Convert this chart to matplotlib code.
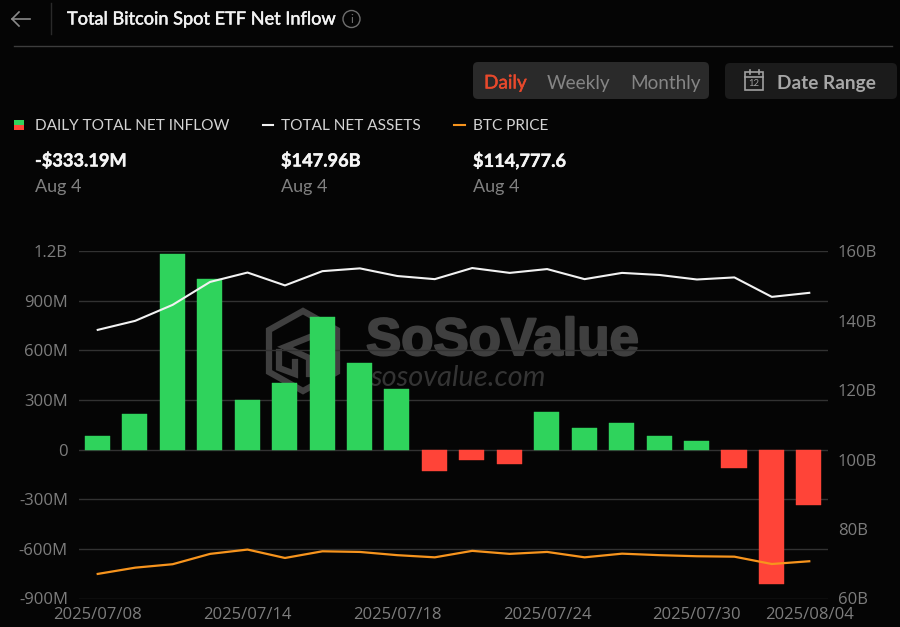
import matplotlib
matplotlib.use("Agg")
import matplotlib.pyplot as plt
import matplotlib.patheffects as pe
from matplotlib.patches import FancyBboxPatch, Polygon, Rectangle, Circle
import numpy as np

W, H = 900, 627
PX = 72 / 100  # px -> pt at dpi 100

BG = "#050505"
GREEN = "#2fd35c"
RED = "#ff4438"
ORANGE = "#f7941d"
GRID = "#323232"
TICK = "#7d7d7d"

dates = ["2025/07/08", "2025/07/09", "2025/07/10", "2025/07/11", "2025/07/14",
         "2025/07/15", "2025/07/16", "2025/07/17", "2025/07/18", "2025/07/21",
         "2025/07/22", "2025/07/23", "2025/07/24", "2025/07/25", "2025/07/28",
         "2025/07/29", "2025/07/30", "2025/07/31", "2025/08/01", "2025/08/04"]
net_inflow_m = [80, 216, 1180, 1030, 300, 405, 800, 525, 365, -130,
                -65, -85, 225, 130, 160, 80, 50, -110, -810, -333.19]
net_assets_b = [137.3, 139.9, 144.5, 151.1, 153.8, 150.1, 154.2, 155.0, 152.8, 151.9,
                155.1, 153.7, 154.8, 151.9, 153.7, 153.1, 151.8, 152.4, 146.8, 147.96]
btc_price = [108900, 111800, 113400, 118200, 120200, 116300, 119400, 119100, 117600, 116600,
             119600, 118200, 119100, 116600, 118300, 117600, 117100, 116900, 113500, 114777.6]

left_ticks = [-900, -600, -300, 0, 300, 600, 900, 1200]
left_labels = ["-900M", "-600M", "-300M", "0", "300M", "600M", "900M", "1.2B"]
right_ticks = [60, 80, 100, 120, 140, 160]
right_labels = ["60B", "80B", "100B", "120B", "140B", "160B"]
shown_dates = [0, 4, 8, 12, 16, 19]

plt.rcParams["font.family"] = ["Lato", "DejaVu Sans"]

fig = plt.figure(figsize=(W / 100, H / 100), dpi=100, facecolor=BG)

# ── Pixel-space layer for the page furniture and the watermark ───────────────
ui = fig.add_axes([0, 0, 1, 1], zorder=0)
ui.set_xlim(0, W)
ui.set_ylim(H, 0)
ui.axis("off")


def label(x, y, s, size, color, weight="normal", ha="left", stroke=0, **kw):
    t = ui.text(x, y, s, fontsize=size * PX, color=color, fontweight=weight,
                ha=ha, va="center", **kw)
    if stroke:
        t.set_path_effects([pe.withStroke(linewidth=stroke, foreground=color)])
    return t


def button(x0, y0, x1, y1, color):
    ui.add_patch(FancyBboxPatch((x0 + 5, y0 + 5), x1 - x0 - 10, y1 - y0 - 10,
                                boxstyle="round,pad=5,rounding_size=5", fc=color, ec="none"))


# header
ui.plot([12, 30], [19, 19], color="#8a8a8a", lw=1.2)
ui.plot([19, 12, 19], [12, 19, 26], color="#8a8a8a", lw=1.2)
ui.plot([50.5, 50.5], [3, 34], color="#2a2a2a", lw=1)
label(67, 19.5, "Total Bitcoin Spot ETF Net Inflow", 18.15, "#f2f2f2", stroke=0.35)
ui.add_patch(Circle((351.5, 19), 8.5, fc="none", ec="#6e6e6e", lw=1))
label(351.5, 19.5, "i", 12, "#6e6e6e", ha="center")
ui.plot([14, 892], [45.5, 45.5], color="#3d3d3d", lw=1)

# period switch + date range
button(473, 62, 709, 99, "#2a2a2a")
button(725, 63, 897, 99, "#1b1b1b")
label(484, 83, "Daily", 19, "#e8492c", stroke=0.3)
label(547, 83, "Weekly", 19, "#858585")
label(630, 83, "Monthly", 19, "#858585")
label(777, 83, "Date Range", 19, "#a6a6a6", weight="bold")
ui.add_patch(Rectangle((745, 72), 18, 18, fc="none", ec="#a0a0a0", lw=1.2))
ui.plot([745, 763], [76.5, 76.5], color="#a0a0a0", lw=1.2)
ui.plot([749.5, 749.5], [70, 74], color="#a0a0a0", lw=1.2)
ui.plot([758.5, 758.5], [70, 74], color="#a0a0a0", lw=1.2)
label(754, 83.5, "12", 9.5, "#a0a0a0", ha="center")

# legend block
ui.add_patch(Rectangle((14, 120), 10, 5, fc=GREEN, ec="none"))
ui.add_patch(Rectangle((14, 125), 10, 5, fc=RED, ec="none"))
ui.plot([263, 273], [125, 125], color="#f0f0f0", lw=1.5)
ui.plot([454, 465], [125, 125], color=ORANGE, lw=1.5)
for x, name, val in [(35, "DAILY TOTAL NET INFLOW", "-$333.19M"),
                     (281, "TOTAL NET ASSETS", "$147.96B"),
                     (473, "BTC PRICE", "$114,777.6")]:
    label(x, 126.5, name, 15.4, "#d4d4d4")
    label(x, 160.5, val, 18.2, "#f5f5f5", weight="bold", stroke=0.3)
    label(x, 187, "Aug 4", 18, "#808080")

# watermark, sits behind the chart
WM = "#3f3f3f"
ui.add_patch(Polygon([(303, 311), (337, 330), (337, 372), (303, 391), (269, 372), (269, 330)],
                     closed=True, fc="none", ec=WM, lw=4.5, joinstyle="miter"))
ui.plot([310, 285, 309, 309], [337, 347, 358, 374], color=WM, lw=4.5, solid_joinstyle="miter")
ui.plot([279, 279, 295, 295], [352, 368, 374, 362], color=WM, lw=4.5, solid_joinstyle="miter")
label(366, 341, "SoSoValue", 52.8, WM, weight="bold", family="Liberation Sans", stroke=1.5)
label(370, 378, "sosovalue.com", 29, "#343434", style="italic")

# ── Chart ────────────────────────────────────────────────────────────────────
x = np.arange(len(dates))

ax = fig.add_axes([79 / W, 1 - 598.5 / H, 749 / W, 347.5 / H], zorder=1)
ax.patch.set_alpha(0)
ax.set_xlim(-0.5, len(dates) - 0.5)
ax.set_ylim(-900, 1200)
for side in ax.spines:
    ax.spines[side].set_visible(False)
ax.set_yticks(left_ticks)
ax.set_yticklabels(left_labels)
ax.grid(True, axis="y", color=GRID, linewidth=1)
ax.set_axisbelow(True)
ax.tick_params(axis="both", length=0, colors=TICK, labelsize=16.6 * PX, labelfontfamily="Open Sans")
ax.tick_params(axis="y", pad=8)
ax.tick_params(axis="x", pad=6)
ax.set_xticks([x[i] for i in shown_dates])
ax.set_xticklabels([dates[i] for i in shown_dates])

colors = [GREEN if v >= 0 else RED for v in net_inflow_m]
ax.bar(x - 0.01, net_inflow_m, width=0.67, color=colors, edgecolor=colors, linewidth=0.3,
       joinstyle="round", zorder=2)

# net assets on the visible right axis
ax2 = ax.twinx()
ax2.set_ylim(60, 160)
for side in ax2.spines:
    ax2.spines[side].set_visible(False)
ax2.set_yticks(right_ticks)
ax2.set_yticklabels(right_labels)
ax2.tick_params(axis="y", length=0, colors=TICK, labelsize=16.6 * PX, labelfontfamily="Open Sans", pad=7)
ax2.plot(x, net_assets_b, color="#f2f2f2", linewidth=1.5, zorder=3)

# btc price has its own hidden axis
ax3 = ax.twinx()
ax3.set_ylim(97500, 258700)
ax3.axis("off")
ax3.plot(x, btc_price, color=ORANGE, linewidth=1.6, zorder=3)

fig.savefig("out.png", dpi=100, facecolor=BG)
